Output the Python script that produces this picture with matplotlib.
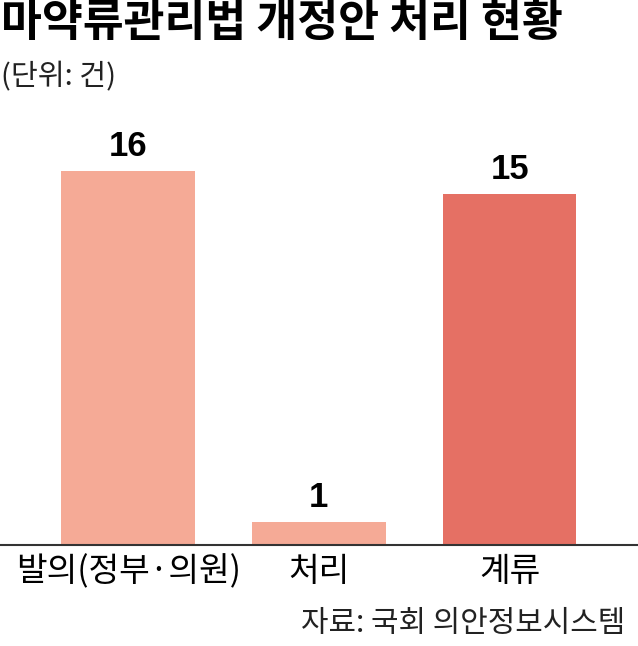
import matplotlib
matplotlib.use("Agg")
import matplotlib.pyplot as plt

# data
categories = ['발의(정부·의원)', '처리', '계류']
counts = [16, 1, 15]
bar_colors = ['#F5AA96', '#F5AA96', '#E57064']

title = '마약류관리법 개정안 처리 현황'
unit = '(단위: 건)'
source = '자료: 국회 의안정보시스템'

plt.rcParams['font.family'] = ['Noto Sans CJK KR', 'DejaVu Sans']

W, H = 638, 646
fig = plt.figure(figsize=(W / 100, H / 100), dpi=100)
ax = fig.add_axes([0, 101 / H, 1, 435 / H])

x = list(range(len(categories)))
ax.bar(x, counts, width=0.70, color=bar_colors, zorder=2)

for i, v in enumerate(counts):
    ax.annotate(str(v), (i, v), xytext=(0, 10.5), textcoords='offset points',
                ha='center', va='baseline', fontsize=25, fontweight='bold',
                family=['Liberation Sans', 'DejaVu Sans'])

ax.set_xlim(-0.672, 2.673)
ax.set_ylim(0, 435 / 23.4)
ax.set_xticks(x)
ax.set_xticklabels(categories, fontsize=24)
ax.tick_params(axis='x', length=0, pad=6.5)
ax.set_yticks([])
for side in ['top', 'left', 'right']:
    ax.spines[side].set_visible(False)
ax.spines['bottom'].set_color('#333333')
ax.spines['bottom'].set_linewidth(1.5)

fig.text(1 / W, 1 - 0 / H, title, ha='left', va='top', fontsize=32,
         fontweight='bold')
fig.text(1 / W, 1 - 62 / H, unit, ha='left', va='top', fontsize=21,
         fontweight='light', color='#222222')
fig.text(625 / W, 1 - 623 / H, source, ha='right', va='center', fontsize=21.5,
         fontweight='light', color='#222222')

fig.savefig('out.png', dpi=100)
